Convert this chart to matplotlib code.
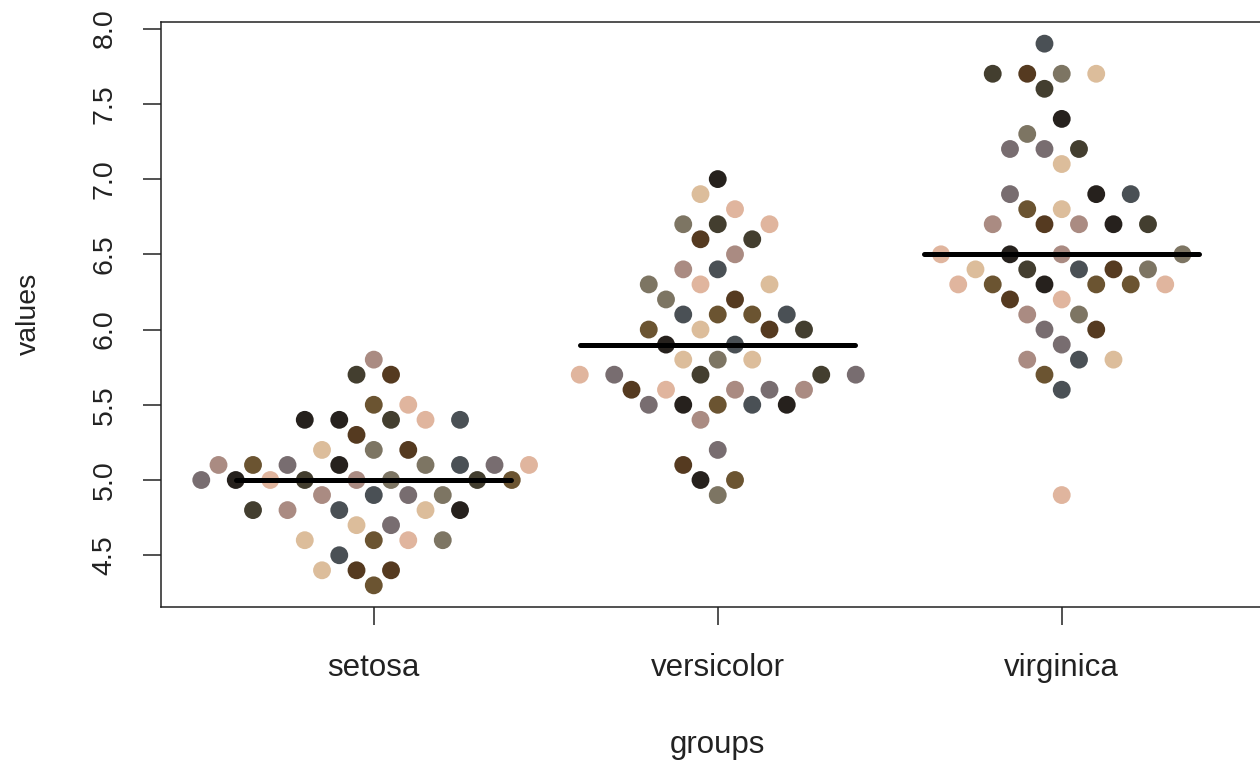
import numpy as np
import matplotlib.pyplot as plt

# Sepal.Length du jeu iris, par espèce
groups = ["setosa", "versicolor", "virginica"]
setosa = [5.1, 4.9, 4.7, 4.6, 5.0, 5.4, 4.6, 5.0, 4.4, 4.9, 5.4, 4.8, 4.8, 4.3, 5.8, 5.7, 5.4,
          5.1, 5.7, 5.1, 5.4, 5.1, 4.6, 5.1, 4.8, 5.0, 5.0, 5.2, 5.2, 4.7, 4.8, 5.4, 5.2, 5.5,
          4.9, 5.0, 5.5, 4.9, 4.4, 5.1, 5.0, 4.5, 4.4, 5.0, 5.1, 4.8, 5.1, 4.6, 5.3, 5.0]
versicolor = [7.0, 6.4, 6.9, 5.5, 6.5, 5.7, 6.3, 4.9, 6.6, 5.2, 5.0, 5.9, 6.0, 6.1, 5.6, 6.7, 5.6,
              5.8, 6.2, 5.6, 5.9, 6.1, 6.3, 6.1, 6.4, 6.6, 6.8, 6.7, 6.0, 5.7, 5.5, 5.5, 5.8, 6.0,
              5.4, 6.0, 6.7, 6.3, 5.6, 5.5, 5.5, 6.1, 5.8, 5.0, 5.6, 5.7, 5.7, 6.2, 5.1, 5.7]
virginica = [6.3, 5.8, 7.1, 6.3, 6.5, 7.6, 4.9, 7.3, 6.7, 7.2, 6.5, 6.4, 6.8, 5.7, 5.8, 6.4, 6.5,
             7.7, 7.7, 6.0, 6.9, 5.6, 7.7, 6.3, 6.7, 7.2, 6.2, 6.1, 6.4, 7.2, 7.4, 7.9, 6.4, 6.3,
             6.1, 7.7, 6.3, 6.4, 6.0, 6.9, 6.7, 6.9, 5.8, 6.8, 6.7, 6.7, 6.3, 6.5, 6.2, 5.9]
values = [setosa, versicolor, virginica]
y_ticks = [4.5, 5.0, 5.5, 6.0, 6.5, 7.0, 7.5, 8.0]

dot_colors = ['#26211d', '#4a5055', '#dcbd9b', '#6b5431', '#aa8b82',
              '#433e2f', '#e0b59e', '#7d7563', '#553a20', '#786d70']

plt.rcParams['font.family'] = ['Liberation Sans', 'DejaVu Sans']

fig = plt.figure(figsize=(12.6, 7.64), dpi=100)
ax = fig.add_axes([160.5 / 1260, 1 - 607 / 764, (1275 - 160.5) / 1260, 585 / 764])
ax.set_xlim(0.38, 3.62)
ax.set_ylim(4.156, 8.044)


def swarm(ys, center, w=34.5, reach=32):
    """Beeswarm calculé en pixels, valeurs croissantes.
    Même ligne : écart >= w ; lignes voisines (jusqu'à 'reach' px) : écart >= w/2."""
    pts = ax.transData.transform(np.column_stack([np.full(len(ys), center), ys]))
    py = pts[:, 1]
    placed = []
    off = np.zeros(len(ys))
    for i in np.argsort(py, kind='stable'):
        near = []
        for px, qy in placed:
            dy = abs(qy - py[i])
            if dy < 1:
                near.append((px, w))
            elif dy < reach:
                near.append((px, w / 2))
        cands = [0.0]
        for px, r in near:
            cands += [px - r, px + r]
        for c in sorted(cands, key=lambda c: (round(abs(c), 6), c)):
            if all(abs(c - px) >= r - 0.01 for px, r in near):
                off[i] = c
                break
        placed.append((off[i], py[i]))
    pts[:, 0] += off
    return ax.transData.inverted().transform(pts)[:, 0]


# Points de chaque groupe
k = 0
for g, ys in enumerate(values):
    xs = swarm(ys, g + 1)
    cols = [dot_colors[(k + j) % len(dot_colors)] for j in range(len(ys))]
    k += len(ys)
    ax.scatter(xs, ys, s=165, c=cols, linewidths=0, zorder=2)
    # Médiane
    med = np.median(ys)
    ax.plot([g + 1 - 0.4, g + 1 + 0.4], [med, med], color='black', lw=3.6,
            solid_capstyle='round', zorder=3)

# Axes à la façon R
ax.set_xticks([1, 2, 3])
ax.set_xticklabels(groups)
ax.set_yticks(y_ticks)
ax.set_yticklabels([f"{v:.1f}" for v in y_ticks])
ax.tick_params(axis='both', length=13, width=1.1, color='#222222', labelcolor='#222222')
ax.tick_params(axis='x', labelsize=22.5, pad=20)
ax.tick_params(axis='y', labelsize=20.5, pad=18, labelrotation=90)
for lbl in ax.get_yticklabels():
    lbl.set_va('center')
for sp in ax.spines.values():
    sp.set_linewidth(1.1)
    sp.set_color('#222222')

fig.text(717 / 1260, 1 - 745 / 764, "groups", ha='center', va='center', fontsize=22.5, color='#222222')
fig.text(29 / 1260, 1 - 314 / 764, "values", ha='center', va='center', rotation=90,
         fontsize=20.5, color='#222222')

fig.savefig("out.png", dpi=100)
